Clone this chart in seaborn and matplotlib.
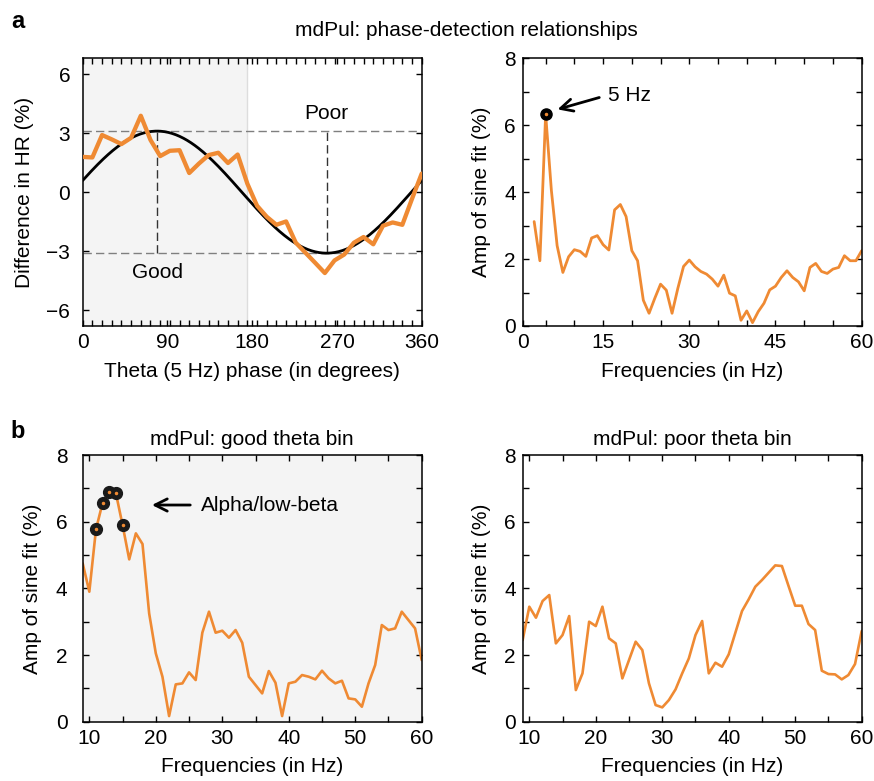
import numpy as np
import matplotlib
matplotlib.use("Agg")
import matplotlib.pyplot as plt
import seaborn as sns

# ---- values ----
# a (left): heart-rate difference per theta phase bin
phase_deg = np.linspace(0, 360, 36)
hr_diff = [1.79, 1.76, 2.90, 2.68, 2.44, 2.76, 3.88, 2.65, 1.83, 2.10, 2.13, 0.97,
           1.45, 1.88, 2.00, 1.48, 1.91, 0.43, -0.69, -1.25, -1.66, -1.49, -2.57, -3.08,
           -3.59, -4.11, -3.47, -3.17, -2.57, -2.28, -2.65, -1.71, -1.54, -1.66, -0.34, 0.94]
# sine fit shown in black (amplitude in %, phase of the peak in degrees)
fit_amp = 3.1
fit_peak = 79

# a (right): amplitude of sine fit per frequency
freq_a = list(range(3, 61))
amp_a = [3.12, 1.95, 6.33, 4.05, 2.40, 1.60, 2.07, 2.28, 2.23, 2.08, 2.63, 2.70,
         2.43, 2.27, 3.47, 3.63, 3.27, 2.25, 1.95, 0.77, 0.38, 0.83, 1.25, 1.07,
         0.38, 1.12, 1.78, 1.97, 1.77, 1.63, 1.55, 1.40, 1.19, 1.52, 0.98, 0.90,
         0.17, 0.45, 0.10, 0.43, 0.68, 1.08, 1.19, 1.45, 1.65, 1.45, 1.32, 1.05,
         1.75, 1.87, 1.63, 1.57, 1.70, 1.75, 2.10, 1.95, 1.95, 2.25]
theta_freq = 5

# b: good / poor theta bin
freq_b = list(range(9, 61))
amp_good = [4.75, 3.90, 5.77, 6.57, 6.90, 6.85, 5.90, 4.87, 5.65, 5.33, 3.25, 2.05,
            1.35, 0.17, 1.12, 1.15, 1.48, 1.25, 2.67, 3.30, 2.67, 2.73, 2.52, 2.75,
            2.37, 1.35, 1.10, 0.85, 1.52, 1.17, 0.17, 1.15, 1.20, 1.40, 1.35, 1.27,
            1.53, 1.30, 1.15, 1.23, 0.70, 0.67, 0.45, 1.15, 1.70, 2.90, 2.75, 2.80,
            3.30, 3.05, 2.80, 1.85]
amp_poor = [2.45, 3.45, 3.12, 3.62, 3.80, 2.35, 2.60, 3.17, 0.95, 1.45, 3.00, 2.87,
            3.45, 2.50, 2.35, 1.30, 1.85, 2.40, 2.15, 1.15, 0.50, 0.43, 0.65, 0.97,
            1.45, 1.90, 2.60, 3.02, 1.45, 1.77, 1.65, 2.02, 2.67, 3.32, 3.67, 4.05,
            4.25, 4.47, 4.69, 4.67, 4.07, 3.48, 3.48, 2.93, 2.75, 1.53, 1.43, 1.42,
            1.27, 1.40, 1.73, 2.72]
alpha_band = [11, 12, 13, 14, 15]

ORANGE = "#EF8A33"
SHADE = "#F4F4F4"
FS = 15

sns.set_style("ticks")
plt.rcParams["font.family"] = ["Liberation Sans", "DejaVu Sans"]
plt.rcParams["font.size"] = FS
plt.rcParams["text.color"] = "black"
plt.rcParams["axes.labelcolor"] = "black"

fig = plt.figure(figsize=(8.74, 7.81), dpi=100)
ax1 = fig.add_axes([0.0946, 0.5826, 0.3879, 0.3428])
ax2 = fig.add_axes([0.598, 0.5826, 0.3879, 0.3428])
ax3 = fig.add_axes([0.0946, 0.0759, 0.3879, 0.3415])
ax4 = fig.add_axes([0.598, 0.0759, 0.3879, 0.3415])


def style(ax, ypad):
    ax.tick_params(which="both", direction="in", top=True, right=True,
                   length=4, width=1, colors="black", labelsize=FS)
    ax.tick_params(axis="y", pad=ypad)
    ax.tick_params(axis="x", pad=5)
    for s in ax.spines.values():
        s.set_linewidth(1.1)
        s.set_color("black")


# ---- a, left: phase relationship ----
ax1.axvspan(0, 175, color=SHADE, lw=0, zorder=0)
ax1.axvline(175, color="#DDDDDD", lw=1, zorder=0)
theta = np.linspace(0, 360, 361)
fit_curve = fit_amp * np.cos(np.radians(theta - fit_peak))
sns.lineplot(x=theta, y=fit_curve, ax=ax1, color="black", lw=2.0, zorder=2)
sns.lineplot(x=phase_deg, y=hr_diff, ax=ax1, color=ORANGE, lw=3.1, zorder=3)
for yy in (fit_amp, -fit_amp):
    ax1.axhline(yy, color="#7F7F7F", lw=1, ls=(0, (6, 3)), zorder=1)
for xx in (fit_peak, fit_peak + 180):
    ax1.plot([xx, xx], [-fit_amp, fit_amp], color="#333333", lw=1, ls=(0, (6, 3)), zorder=1)
ax1.text(fit_peak, -4.1, "Good", ha="center", va="center", fontsize=FS)
ax1.text(fit_peak + 180, 4.0, "Poor", ha="center", va="center", fontsize=FS)
ax1.set_xlim(0, 360)
ax1.set_ylim(-6.8, 6.8)
ax1.set_xticks([0, 90, 180, 270, 360])
ax1.set_xticks(phase_deg, minor=True)
ax1.set_yticks([-6, -3, 0, 3, 6])
ax1.set_xlabel("Theta (5 Hz) phase (in degrees)", fontsize=FS)
ax1.set_ylabel("Difference in HR (%)", fontsize=FS)
style(ax1, 9)

# ---- a, right: amplitude spectrum ----
sns.lineplot(x=freq_a, y=amp_a, ax=ax2, color=ORANGE, lw=2.0)
peak_amp = amp_a[freq_a.index(theta_freq)]
ax2.plot([theta_freq], [peak_amp], "o", ms=8, mfc="black", mec="black", zorder=4)
ax2.plot([theta_freq], [peak_amp], "o", ms=1.5, color=ORANGE, zorder=5)
ax2.annotate("", xy=(6.6, 6.45), xytext=(14.8, 6.85),
             arrowprops=dict(arrowstyle="->", lw=2, color="black", mutation_scale=22))
ax2.text(15.9, 6.9, "5 Hz", ha="left", va="center", fontsize=FS)
ax2.set_xlim(1, 60)
ax2.set_ylim(0, 8)
ax2.set_xticks([1, 15, 30, 45, 60])
ax2.set_xticklabels(["0", "15", "30", "45", "60"])
ax2.set_xticks(range(5, 60, 5), minor=True)
ax2.set_yticks([0, 2, 4, 6, 8])
ax2.set_yticks(range(0, 9), minor=True)
ax2.set_xlabel("Frequencies (in Hz)", fontsize=FS)
ax2.set_ylabel("Amp of sine fit (%)", fontsize=FS)
style(ax2, 5)

# ---- b, left: good theta bin ----
ax3.set_facecolor(SHADE)
sns.lineplot(x=freq_b, y=amp_good, ax=ax3, color=ORANGE, lw=1.9)
hl_y = [amp_good[freq_b.index(f)] for f in alpha_band]
ax3.plot(alpha_band, hl_y, "o", ls="none", ms=8.5, mfc="#1A1A1A", mec="#1A1A1A", zorder=4)
ax3.plot(alpha_band, hl_y, "o", ls="none", ms=1.5, color=ORANGE, zorder=5)
ax3.annotate("", xy=(19.0, 6.5), xytext=(25.6, 6.5),
             arrowprops=dict(arrowstyle="->", lw=2, color="black", mutation_scale=22))
ax3.text(26.8, 6.5, "Alpha/low-beta", ha="left", va="center", fontsize=FS)
ax3.set_title("mdPul: good theta bin", fontsize=FS, pad=7)

# ---- b, right: poor theta bin ----
sns.lineplot(x=freq_b, y=amp_poor, ax=ax4, color=ORANGE, lw=1.9)
ax4.set_title("mdPul: poor theta bin", fontsize=FS, pad=7)

for ax, pad in ((ax3, 11), (ax4, 5)):
    ax.set_xlim(9, 60)
    ax.set_ylim(0, 8)
    ax.set_xticks([10, 20, 30, 40, 50, 60])
    ax.set_xticks(range(10, 61, 5), minor=True)
    ax.set_yticks([0, 2, 4, 6, 8])
    ax.set_yticks(range(0, 9), minor=True)
    ax.set_xlabel("Frequencies (in Hz)", fontsize=FS)
    ax.set_ylabel("Amp of sine fit (%)", fontsize=FS)
    style(ax, pad)

# label placement
ax1.yaxis.set_label_coords(-0.143, 0.5)
ax3.yaxis.set_label_coords(-0.119, 0.5)
ax2.yaxis.set_label_coords(-0.094, 0.5)
ax4.yaxis.set_label_coords(-0.094, 0.5)
for ax in (ax1, ax2, ax3, ax4):
    ax.xaxis.set_label_coords(0.5, -0.134)

fig.text(0.534, 1 - 30 / 781, "mdPul: phase-detection relationships",
         ha="center", va="center", fontsize=FS)
fig.text(18 / 874, 1 - 22 / 781, "a", ha="center", va="center", fontsize=17, fontweight="bold")
fig.text(18 / 874, 1 - 432 / 781, "b", ha="center", va="center", fontsize=17, fontweight="bold")

fig.savefig("out.png", dpi=100)
plt.close(fig)
